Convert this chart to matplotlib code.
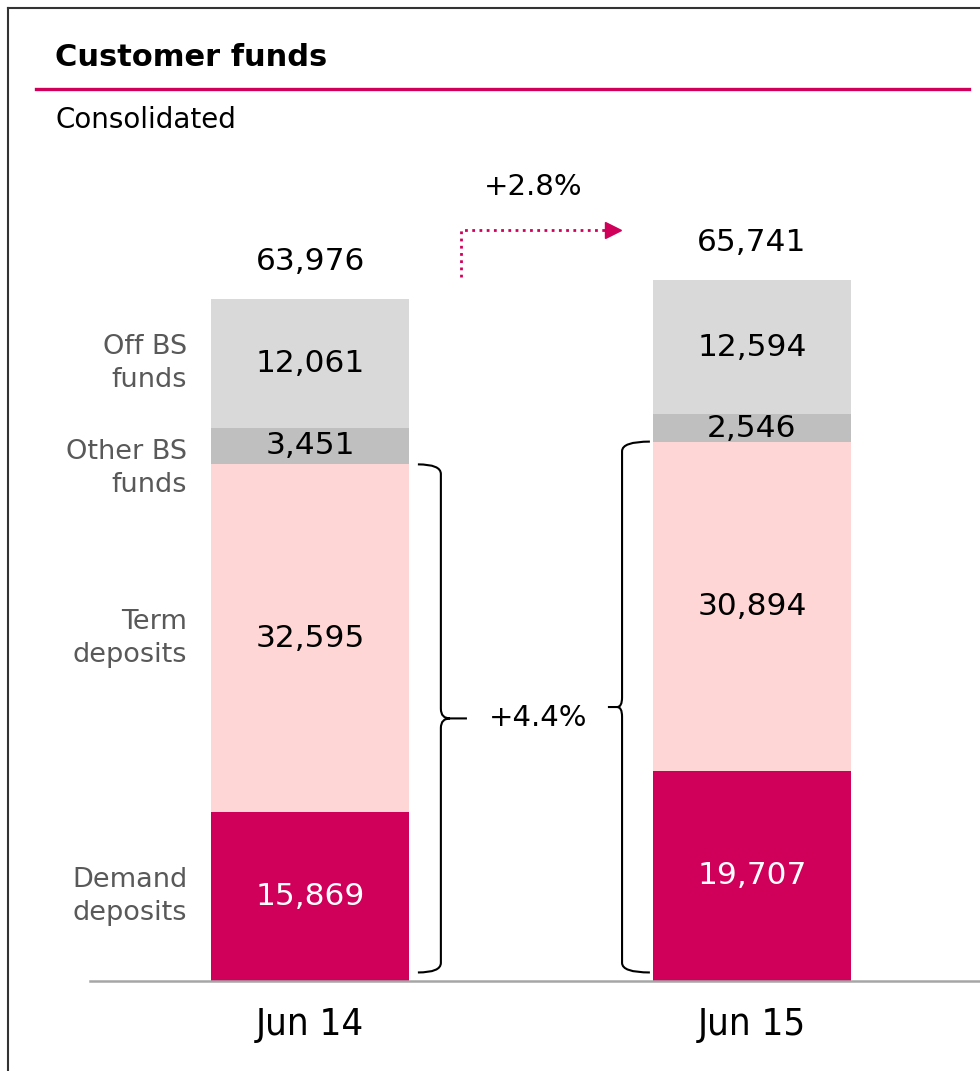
import matplotlib.pyplot as plt
from matplotlib.lines import Line2D
from matplotlib.path import Path
from matplotlib.patches import PathPatch

# data (EUR mn)
periods = ["Jun 14", "Jun 15"]
segments = ["Demand\ndeposits", "Term\ndeposits", "Other BS\nfunds", "Off BS\nfunds"]
demand = [15869, 19707]
term = [32595, 30894]
other_bs = [3451, 2546]
off_bs = [12061, 12594]
totals = [63976, 65741]
total_growth = "+2.8%"
deposit_growth = "+4.4%"

MAGENTA = "#D0005A"
colors = [MAGENTA, "#FFD6D6", "#BFBFBF", "#D9D9D9"]
text_colors = ["white", "black", "black", "black"]
LABEL_GREY = "#595959"

plt.rcParams['font.family'] = ['DejaVu Sans']

fig = plt.figure(figsize=(9.8, 10.71), dpi=100)
W, H = 980, 1071

# axes placed so the baseline sits where the original one is
ax = fig.add_axes([90 / W, (H - 981) / H, 890 / W, 831 / H])
ax.set_xlim(-0.498, 1.516)
ax.set_ylim(0, 77955)

series = [demand, term, other_bs, off_bs]
xs = [0, 1]
bar_w = 0.45
bottoms = [0, 0]
for vals, col, tc in zip(series, colors, text_colors):
    ax.bar(xs, vals, bottom=bottoms, width=bar_w, color=col, edgecolor='none')
    for i in range(2):
        ax.text(xs[i], bottoms[i] + vals[i] / 2, f"{vals[i]:,}", ha='center', va='center',
                fontsize=22.5, color=tc)
    bottoms = [b + v for b, v in zip(bottoms, vals)]

# totals above bars
for i in range(2):
    ax.text(xs[i], totals[i] + 3550, f"{totals[i]:,}", ha='center', va='center', fontsize=22.5)

# segment names on the left of the first bar
b = 0
for name, vals in zip(segments, series):
    mid = b + vals[0] / 2
    if name.startswith("Other"):
        mid -= 2100
    ax.text(-0.278, mid, name, ha='right', va='center', fontsize=19.5,
            color=LABEL_GREY, linespacing=1.35)
    b += vals[0]


def brace(x, y0, y1, hook, tip, ry=900):
    ym = (y0 + y1) / 2
    rx = tip * 0.35
    verts = [(x + hook, y1), (x, y1), (x, y1 - ry),
             (x, ym + ry), (x, ym), (x + rx, ym), (x + tip, ym),
             (x + rx, ym), (x, ym), (x, ym - ry),
             (x, y0 + ry), (x, y0), (x + hook, y0)]
    codes = [Path.MOVETO, Path.CURVE3, Path.CURVE3,
             Path.LINETO, Path.CURVE3, Path.CURVE3, Path.LINETO,
             Path.MOVETO, Path.CURVE3, Path.CURVE3,
             Path.LINETO, Path.CURVE3, Path.CURVE3]
    ax.add_patch(PathPatch(Path(verts, codes), fill=False, lw=1.5, color='black'))


dep0 = demand[0] + term[0]
dep1 = demand[1] + term[1]
brace(0.296, 800, dep0, -0.052, 0.059)
brace(0.706, 800, dep1, 0.063, -0.032)
ax.text(0.515, dep0 / 2 + 450, deposit_growth, ha='center', va='center', fontsize=21)

# dotted growth arrow between totals
ax_x0 = 0.342
y_start = totals[0] + 2050
y_arrow = totals[1] + 4700
ax.plot([ax_x0, ax_x0, 0.675], [y_start, y_arrow, y_arrow], color=MAGENTA, lw=2,
        ls=(0, (1, 1.6)), clip_on=False)
ax.plot(0.685, y_arrow, marker='>', ms=11, color=MAGENTA, clip_on=False)
ax.text(0.505, totals[1] + 8750, total_growth, ha='center', va='center', fontsize=21)

# axes styling
for s in ['top', 'right', 'left']:
    ax.spines[s].set_visible(False)
ax.spines['bottom'].set_color('#A6A6A6')
ax.spines['bottom'].set_linewidth(1.8)
ax.set_yticks([])
ax.set_xticks(xs)
ax.set_xticklabels(periods, fontsize=27.5, fontstretch='condensed')
ax.tick_params(axis='x', length=0, pad=19)

# title block and frame
fig.text(55 / W, 1 - 58 / H, "Customer funds", fontsize=22, fontweight='bold', va='center')
fig.add_artist(Line2D([36 / W, 969 / W], [1 - 89 / H] * 2, color=MAGENTA, lw=2.4))
fig.text(55 / W, 1 - 120 / H, "Consolidated", fontsize=20, va='center')
fig.add_artist(Line2D([8 / W, 8 / W], [0, 1 - 8 / H], color='#333333', lw=1.5))
fig.add_artist(Line2D([8 / W, 1], [1 - 8 / H] * 2, color='#333333', lw=1.5))

fig.savefig('out.png', dpi=100)
